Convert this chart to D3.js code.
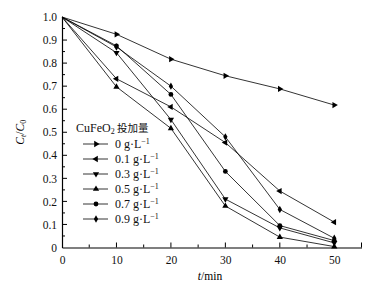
<!DOCTYPE html>
<html>
<head>
<meta charset="utf-8">
<script src="https://cdn.jsdelivr.net/npm/d3@7"></script>
<style>
  body { margin: 0; background: #fff; }
</style>
</head>
<body>
<div id="chart"></div>
<script>
const times = [0, 10, 20, 30, 40, 50];
const doses = ['0', '0.1', '0.3', '0.5', '0.7', '0.9'];
const s0 = [1.0, 0.925, 0.817, 0.745, 0.688, 0.618];
const s01 = [1.0, 0.732, 0.61, 0.455, 0.245, 0.11];
const s03 = [1.0, 0.845, 0.555, 0.21, 0.085, 0.02];
const s05 = [1.0, 0.697, 0.517, 0.18, 0.045, 0.004];
const s07 = [1.0, 0.875, 0.664, 0.33, 0.095, 0.03];
const s09 = [1.0, 0.87, 0.70, 0.48, 0.165, 0.04];
const seriesValues = [s0, s01, s03, s05, s07, s09];
const markers = ['right', 'left', 'down', 'up', 'circle', 'diamond'];
const xTicks = [0, 10, 20, 30, 40, 50];
const yTicks = [0, 0.1, 0.2, 0.3, 0.4, 0.5, 0.6, 0.7, 0.8, 0.9, 1.0];

const serif = '"Liberation Serif", "Times New Roman", serif';
const width = 378, height = 289;
const svg = d3.select('#chart').append('svg')
  .attr('width', width).attr('height', height);

const x = d3.scaleLinear().domain([0, 55]).range([62, 361.5]);
const y = d3.scaleLinear().domain([0, 1]).range([247.5, 17]);

const tri = d3.symbol().type(d3.symbolTriangle).size(17);
function marker(g, type, cx, cy) {
  if (type === 'circle') {
    g.append('circle').attr('cx', cx).attr('cy', cy).attr('r', 2.4).attr('fill', '#000');
  } else if (type === 'diamond') {
    g.append('path').attr('d', d3.symbol().type(d3.symbolDiamond).size(16)())
      .attr('transform', `translate(${cx},${cy})`).attr('fill', '#000');
  } else {
    const rot = { up: 0, right: 90, down: 180, left: 270 }[type];
    g.append('path').attr('d', tri())
      .attr('transform', `translate(${cx},${cy}) rotate(${rot})`).attr('fill', '#000');
  }
}

// axes
const xAxis = svg.append('g').attr('transform', `translate(0,${y(0)})`)
  .call(d3.axisBottom(x).tickValues(xTicks).tickSize(0).tickPadding(8).tickFormat(d3.format('d')));
xAxis.attr('font-family', serif);
xAxis.select('.domain').attr('stroke', '#000').attr('stroke-width', 1.2);
xAxis.selectAll('text').attr('font-size', 11.5).attr('fill', '#111');

const xMinor = svg.append('g').attr('transform', `translate(0,${y(0)})`);
d3.range(5, 56, 5).forEach(v => {
  const major = v % 10 === 0 || v === 55;
  xMinor.append('line').attr('x1', x(v)).attr('x2', x(v))
    .attr('y1', 0).attr('y2', major ? -5 : -3).attr('stroke', '#000').attr('stroke-width', 1);
});

const yAxis = svg.append('g').attr('transform', `translate(${x(0)},0)`)
  .call(d3.axisLeft(y).tickValues(yTicks).tickSize(0).tickPadding(5)
    .tickFormat(d => d === 0 ? '0' : d3.format('.1f')(d)));
yAxis.attr('font-family', serif);
yAxis.select('.domain').attr('stroke', '#000').attr('stroke-width', 1.2);
yAxis.selectAll('text').attr('font-size', 11.5).attr('fill', '#111');

const yMinor = svg.append('g').attr('transform', `translate(${x(0)},0)`);
d3.range(1, 20).forEach(i => {
  const v = i * 0.05;
  yMinor.append('line').attr('x1', 0).attr('x2', i % 2 === 0 ? 5 : 3)
    .attr('y1', y(v)).attr('y2', y(v)).attr('stroke', '#000').attr('stroke-width', 1);
});

// axis titles
const yt = svg.append('text').attr('font-size', 11.5).attr('font-family', serif).attr('text-anchor', 'middle')
  .attr('transform', `translate(24,${y(0.5)}) rotate(-90)`);
yt.append('tspan').attr('font-style', 'italic').text('C');
yt.append('tspan').attr('font-style', 'italic').attr('font-size', 8).attr('dy', 2).text('t');
yt.append('tspan').attr('dy', -2).text('/');
yt.append('tspan').attr('font-style', 'italic').text('C');
yt.append('tspan').attr('font-size', 8).attr('dy', 2).text('0');

const xt = svg.append('text').attr('font-size', 11.5).attr('font-family', serif).attr('text-anchor', 'middle')
  .attr('x', 210).attr('y', 280);
xt.append('tspan').attr('font-style', 'italic').text('t');
xt.append('tspan').text('/min');

// series
const line = d3.line().x((d, i) => x(times[i])).y(d => y(d));
const plot = svg.append('g');
seriesValues.forEach((vals, k) => {
  plot.append('path').datum(vals).attr('d', line)
    .attr('fill', 'none').attr('stroke', '#000').attr('stroke-width', 0.8);
  vals.forEach((v, i) => { if (i > 0) marker(plot, markers[k], x(times[i]), y(v)); });
});

// legend
const lg = svg.append('g').attr('font-family', serif);
const title = lg.append('text').attr('x', 76).attr('y', 132).attr('font-size', 12).attr('fill', '#111');
title.append('tspan').text('CuFeO');
title.append('tspan').attr('font-size', 8).attr('dy', 2).text('2');
title.append('tspan').attr('dy', -2).attr('font-family', '"Noto Sans CJK SC", sans-serif')
  .attr('font-size', 10.5).text(' 投加量');

doses.forEach((d, k) => {
  const cy = 144 + k * 15;
  lg.append('line').attr('x1', 83).attr('x2', 108).attr('y1', cy).attr('y2', cy)
    .attr('stroke', '#000').attr('stroke-width', 0.8);
  marker(lg, markers[k], 96, cy);
  const t = lg.append('text').attr('x', 115).attr('y', cy + 4).attr('font-size', 12).attr('fill', '#111');
  t.append('tspan').text(`${d} g·L`);
  t.append('tspan').attr('font-size', 8).attr('dy', -4).text('−1');
});
</script>
</body>
</html>
